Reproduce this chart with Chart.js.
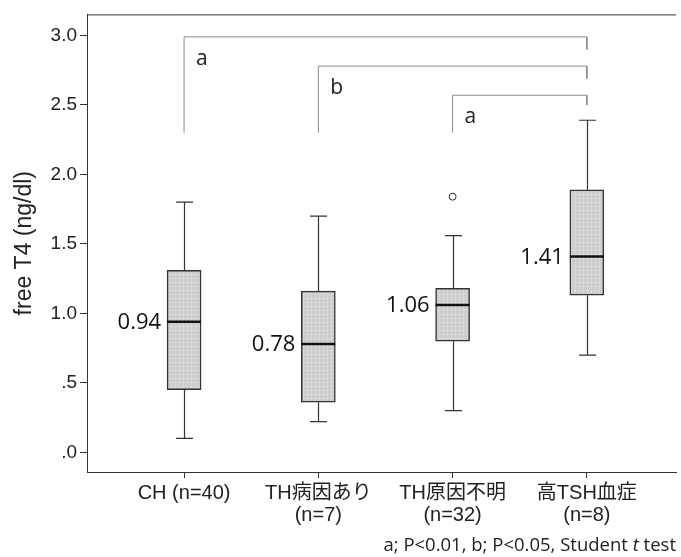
<!DOCTYPE html>
<html>
<head>
<meta charset="utf-8">
<script src="https://cdn.jsdelivr.net/npm/chart.js@4.4.1/dist/chart.umd.min.js"></script>
<style>
  html, body { margin: 0; padding: 0; background: #fff; }
  #wrap { width: 681px; height: 557px; }
</style>
</head>
<body>
<div id="wrap"><canvas id="boxChart"></canvas></div>
<script>
// categories and box statistics
const categories = [['CH (n=40)'], ['TH病因あり', '(n=7)'], ['TH原因不明', '(n=32)'], ['高TSH血症', '(n=8)']];
const whiskerLow = [0.10, 0.22, 0.30, 0.70];
const q1 = [0.45, 0.36, 0.80, 1.13];
const medians = [0.94, 0.78, 1.06, 1.41];
const q3 = [1.31, 1.16, 1.18, 1.89];
const whiskerHigh = [1.80, 1.70, 1.56, 2.39];
const outlierX = [3];
const outlierY = [1.84];

const yTicks = [0, 0.5, 1.0, 1.5, 2.0, 2.5, 3.0];
const yTickLabels = ['.0', '.5', '1.0', '1.5', '2.0', '2.5', '3.0'];

// significance brackets
const bracketFrom = [1, 2, 3];
const bracketTo = [4, 4, 4];
const bracketTop = [2.99, 2.78, 2.57];
const bracketLeftEnd = [2.30, 2.30, 2.30];
const bracketRightEnd = [2.90, 2.69, 2.50];
const bracketLetters = ['a', 'b', 'a'];

const noteText = ['a; P<0.01, b; P<0.05, Student ', 't', ' test'];

const arialFam = "'Liberation Sans', Arial, 'Noto Sans CJK JP', sans-serif";
const calFont = "'Open Sans', 'Noto Sans', sans-serif";

function buatPola() {
    const c = document.createElement('canvas');
    c.width = 4; c.height = 4;
    const g = c.getContext('2d');
    g.fillStyle = '#d4d4d4';
    g.fillRect(0, 0, 4, 4);
    g.fillStyle = '#bdbdbd';
    g.fillRect(0, 0, 1, 1);
    g.fillRect(2, 1, 1, 1);
    g.fillRect(1, 3, 1, 1);
    g.fillStyle = '#e2e2e2';
    g.fillRect(3, 2, 1, 1);
    return g.createPattern(c, 'repeat');
}

const boxPlugin = {
    id: 'boxExtras',
    afterDatasetsDraw(chart) {
        const { ctx, scales: { x, y } } = chart;
        ctx.save();
        // whiskers and caps
        ctx.strokeStyle = '#333';
        ctx.lineWidth = 1.2;
        categories.forEach((c, i) => {
            const px = Math.round(x.getPixelForValue(i + 1)) + 0.5;
            ctx.beginPath();
            ctx.moveTo(px, y.getPixelForValue(whiskerHigh[i]));
            ctx.lineTo(px, y.getPixelForValue(q3[i]));
            ctx.moveTo(px, y.getPixelForValue(q1[i]));
            ctx.lineTo(px, y.getPixelForValue(whiskerLow[i]));
            ctx.moveTo(px - 8.5, y.getPixelForValue(whiskerHigh[i]));
            ctx.lineTo(px + 8.5, y.getPixelForValue(whiskerHigh[i]));
            ctx.moveTo(px - 8.5, y.getPixelForValue(whiskerLow[i]));
            ctx.lineTo(px + 8.5, y.getPixelForValue(whiskerLow[i]));
            ctx.stroke();
        });
        // medians + labels
        categories.forEach((c, i) => {
            const px = x.getPixelForValue(i + 1);
            const py = y.getPixelForValue(medians[i]);
            ctx.strokeStyle = '#111';
            ctx.lineWidth = 2.5;
            ctx.beginPath();
            ctx.moveTo(px - 17, py);
            ctx.lineTo(px + 17, py);
            ctx.stroke();
            ctx.fillStyle = '#111';
            ctx.font = '22px ' + calFont;
            ctx.textAlign = 'right';
            ctx.textBaseline = 'middle';
            ctx.fillText(medians[i].toFixed(2), px - 23, py + 1);
        });
        // bracket letters
        ctx.font = '21px ' + calFont;
        ctx.textAlign = 'left';
        ctx.textBaseline = 'middle';
        ctx.fillStyle = '#222';
        bracketLetters.forEach((t, i) => {
            ctx.fillText(t, x.getPixelForValue(bracketFrom[i]) + 12, y.getPixelForValue(bracketTop[i]) + 22);
        });
        ctx.restore();
    },
    afterDraw(chart) {
        const { ctx, chartArea } = chart;
        ctx.save();
        // top frame line
        ctx.strokeStyle = '#333';
        ctx.lineWidth = 1;
        ctx.beginPath();
        ctx.moveTo(chartArea.left, chartArea.top + 0.5);
        ctx.lineTo(chartArea.right, chartArea.top + 0.5);
        ctx.stroke();
        // footnote
        const fonts = ['18.5px ' + calFont, 'italic 18.5px ' + calFont, '18.5px ' + calFont];
        let total = 0;
        const widths = noteText.map((s, i) => { ctx.font = fonts[i]; const w = ctx.measureText(s).width; total += w; return w; });
        let xPos = chart.width - 5 - total;
        ctx.fillStyle = '#222';
        ctx.textBaseline = 'alphabetic';
        ctx.textAlign = 'left';
        noteText.forEach((s, i) => {
            ctx.font = fonts[i];
            ctx.fillText(s, xPos, chart.height - 6);
            xPos += widths[i];
        });
        ctx.restore();
    }
};

document.addEventListener('DOMContentLoaded', () => {
    const pola = buatPola();
    const datasets = [{
        type: 'bar',
        data: categories.map((c, i) => ({ x: i + 1, y: [q1[i], q3[i]] })),
        backgroundColor: pola,
        borderColor: '#333',
        borderWidth: 1.5,
        borderSkipped: false,
        barThickness: 34
    }, {
        type: 'scatter',
        data: outlierX.map((v, i) => ({ x: v, y: outlierY[i] })),
        pointRadius: 3.5,
        pointBackgroundColor: '#fff',
        pointBorderColor: '#333',
        pointBorderWidth: 1
    }];
    bracketFrom.forEach((f, i) => {
        datasets.push({
            type: 'line',
            data: [
                { x: f, y: bracketLeftEnd[i] },
                { x: f, y: bracketTop[i] },
                { x: bracketTo[i], y: bracketTop[i] },
                { x: bracketTo[i], y: bracketRightEnd[i] }
            ],
            borderColor: '#8a8a8a',
            borderWidth: 1,
            pointRadius: 0,
            fill: false,
            tension: 0
        });
    });

    new Chart(document.getElementById('boxChart'), {
        data: { datasets },
        options: {
            responsive: true,
            maintainAspectRatio: false,
            animation: false,
            layout: { padding: { top: 14, right: 0, bottom: 0, left: 0 } },
            plugins: { legend: { display: false }, tooltip: { enabled: false } },
            scales: {
                x: {
                    type: 'linear',
                    offset: false,
                    min: 0.277,
                    max: 4.664,
                    afterBuildTicks: s => { s.ticks = categories.map((c, i) => ({ value: i + 1 })); },
                    afterFit: s => { s.height = 85; },
                    ticks: {
                        callback: v => categories[v - 1],
                        autoSkip: false,
                        maxRotation: 0,
                        color: '#222',
                        font: { family: arialFam, size: 20, lineHeight: 1.1 },
                        padding: 4
                    },
                    grid: { offset: false, drawOnChartArea: false, drawTicks: true, tickLength: 6, color: '#333' },
                    border: { color: '#333', width: 1 }
                },
                y: {
                    type: 'linear',
                    min: -0.142,
                    max: 3.152,
                    afterBuildTicks: s => { s.ticks = yTicks.map(v => ({ value: v })); },
                    afterFit: s => { s.width = 87; },
                    ticks: {
                        callback: v => yTickLabels[yTicks.indexOf(v)],
                        color: '#222',
                        font: { family: arialFam, size: 19 },
                        padding: 3
                    },
                    grid: { drawOnChartArea: false, drawTicks: true, tickLength: 7, color: '#333' },
                    border: { color: '#333', width: 1 },
                    title: {
                        display: true,
                        text: 'free T4 (ng/dl)',
                        color: '#222',
                        font: { family: arialFam, size: 23 },
                        padding: { top: 11, bottom: 0 }
                    }
                }
            }
        },
        plugins: [boxPlugin]
    });
});
</script>
</body>
</html>
